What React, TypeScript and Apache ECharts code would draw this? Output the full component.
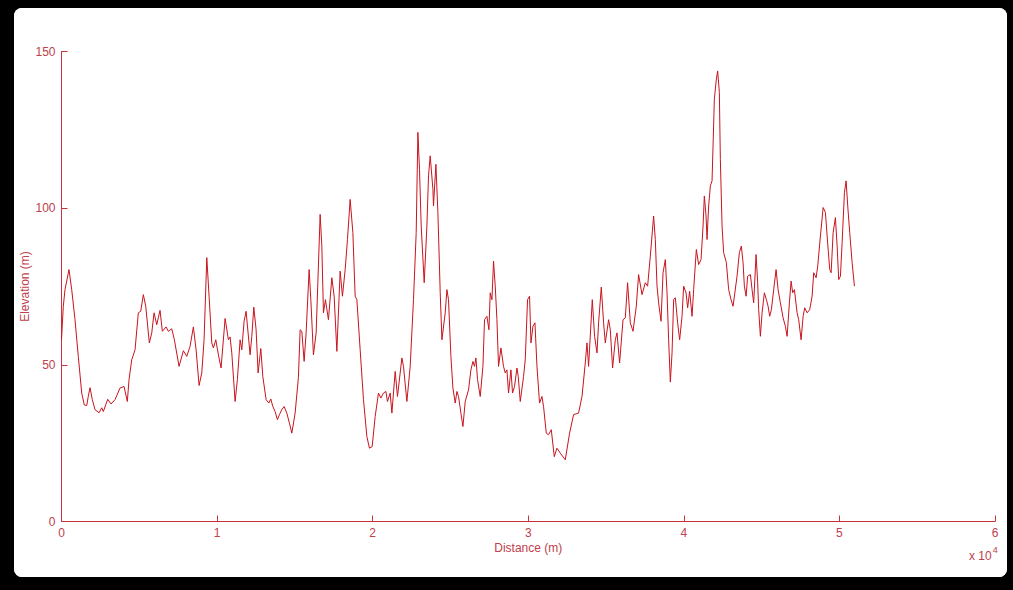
import React, { useEffect, useRef } from "react";
import * as echarts from "echarts";

// Distance along the profile (m)
const distance: number[] = [
  0, 116, 225, 482, 656, 868, 1080, 1299, 1466, 1621, 1723, 1833, 1981, 2154, 2412, 2585, 2688, 2971, 3183, 3441,
  3762, 4019, 4232, 4341, 4514, 4727, 4939, 5093, 5260, 5415, 5646, 5801, 5949, 6122, 6334, 6482, 6720, 6868, 7087, 7254,
  7556, 7833, 8052, 8264, 8476, 8650, 8843, 9016, 9164, 9338, 9486, 9659, 9762, 9917, 10084, 10257, 10515, 10727, 10836, 10945,
  11158, 11306, 11479, 11589, 11736, 11865, 12122, 12232, 12360, 12508, 12637, 12810, 12939, 13151, 13325, 13453, 13582, 13730, 13878, 14007,
  14161, 14309, 14482, 14650, 14804, 15016, 15228, 15338, 15447, 15595, 15723, 15916, 16026, 16193, 16367, 16476, 16624, 16733, 16836, 16965,
  17158, 17376, 17524, 17698, 17910, 18058, 18232, 18380, 18553, 18727, 18875, 18984, 19196, 19409, 19627, 19794, 19968, 20161, 20373, 20528,
  20695, 20849, 20952, 21126, 21235, 21447, 21595, 21878, 21981, 22199, 22412, 22624, 22798, 22907, 23010, 23119, 23312, 23486, 23589, 23698,
  23872, 23910, 24065, 24193, 24341, 24451, 24663, 24772, 24875, 25029, 25158, 25306, 25415, 25518, 25672, 25801, 25949, 26161, 26315, 26444,
  26547, 26637, 26740, 26913, 27087, 27190, 27344, 27473, 27556, 27666, 27769, 27878, 27987, 28090, 28244, 28411, 28521, 28630, 28733, 28887,
  28990, 29119, 29273, 29357, 29486, 29698, 29807, 29955, 30084, 30174, 30302, 30431, 30560, 30727, 30881, 30984, 31158, 31306, 31480, 31673,
  31846, 32058, 32380, 32656, 32914, 33235, 33454, 33666, 33775, 33878, 34116, 34264, 34418, 34521, 34695, 34843, 34952, 35165, 35274, 35422,
  35595, 35705, 35872, 36091, 36238, 36386, 36560, 36733, 36945, 37093, 37312, 37524, 37672, 37846, 38058, 38167, 38277, 38380, 38534, 38663,
  38811, 38920, 39023, 39132, 39242, 39345, 39454, 39602, 39731, 39885, 39988, 40142, 40245, 40373, 40528, 40631, 40804, 40952, 41106, 41235,
  41318, 41428, 41492, 41595, 41704, 41813, 41878, 41961, 42090, 42174, 42283, 42347, 42457, 42559, 42733, 42881, 43035, 43164, 43421, 43569,
  43698, 43807, 43891, 44000, 44103, 44277, 44386, 44489, 44643, 44746, 44811, 44920, 45029, 45177, 45306, 45415, 45518, 45627, 45775, 45929,
  46058, 46206, 46380, 46527, 46637, 46785, 46894, 46997, 47106, 47280, 47383, 47537, 47666, 47769, 47924, 48091, 48245, 48348, 48503, 48606,
  48779, 48953, 49101, 49210, 49377, 49467, 49596, 49743, 49853, 49956, 50065, 50174, 50322, 50431, 50534, 50663, 50817, 50965,
];

// Elevation (m)
const elevation: number[] = [
  58, 68.7, 74, 80.4, 74, 64.4, 52.7, 41, 37.2, 37, 40, 42.7, 38.9, 35.7, 34.7, 36.3, 35.1, 39, 37.5, 38.9,
  42.6, 43.1, 38.3, 45.3, 51.6, 54.8, 66.6, 67.1, 72.4, 68.7, 57, 60.2, 66.6, 62.8, 67.4, 60.7, 62.1, 60.7, 61.5, 58,
  49.5, 54.5, 52.7, 55.9, 62.1, 54.8, 43.4, 47.4, 58, 84.2, 71.9, 57, 55.4, 58, 53.2, 49, 64.8, 58, 58.9, 53.8,
  38.3, 45.3, 58, 54.8, 63.9, 67.1, 53.2, 59.1, 68.4, 61.2, 47.4, 55.2, 46.3, 38.9, 37.8, 39.1, 36.7, 35.1, 32.5, 34.1,
  35.7, 36.7, 34.6, 31.4, 28.2, 34.6, 46, 61.2, 60.7, 51.1, 60.2, 80.4, 70.8, 53.2, 60.2, 76.2, 98, 87.9, 66.6, 70.8,
  64.4, 77.8, 71.9, 54.3, 79.9, 71.9, 80.4, 90, 102.8, 92.2, 71.9, 70.8, 54.8, 38.9, 27.1, 23.4, 23.9, 33.5, 41, 39.4,
  41, 41.5, 38.3, 41, 34.6, 47.9, 39.9, 52.2, 49.5, 38.3, 49.5, 70.8, 92.2, 124.2, 112.4, 94.3, 76.2, 94.3, 110.3, 116.7,
  106, 100.7, 114, 98.6, 73, 58, 66.6, 74, 70.8, 52.7, 42.6, 37.8, 41.5, 39.9, 34.6, 30.3, 38.3, 42, 48.4, 51.1,
  49.5, 52.2, 45.3, 39.9, 49.5, 64.4, 65.5, 61.2, 73, 70.8, 83.1, 75.1, 64.4, 49.5, 55.4, 49.5, 47.4, 48.4, 41, 48.4,
  41, 43.1, 49, 46.3, 38.3, 46.3, 51.6, 70.8, 71.9, 57, 62.3, 63.4, 49.5, 37.8, 39.9, 36.7, 28.2, 27.7, 29.3, 20.7,
  23.4, 21.8, 19.7, 28.2, 34.1, 34.6, 39.9, 50.6, 57, 49.5, 70.8, 59.1, 53.8, 63.4, 74.8, 63.4, 57, 64.4, 61.2, 49,
  58, 60.2, 50.6, 64.4, 65, 76.2, 63.4, 60.7, 68.7, 78.8, 72.4, 76.2, 75.1, 84.7, 97.5, 90, 75.1, 69.8, 63.9, 79.4,
  83.6, 73, 58, 44.5, 53.8, 70.8, 71.4, 63.4, 58, 65.5, 75.1, 73, 68.2, 73.5, 65.5, 74, 86.8, 82, 83.6, 94.3,
  103.9, 97.5, 90, 100.7, 107.1, 108.7, 119.9, 134.8, 141.2, 143.8, 136.9, 115.6, 94.3, 85.8, 82.6, 74, 70.8, 68.7, 78.3, 85.8,
  87.9, 82.6, 75.1, 71.9, 78.3, 78.8, 74, 69.8, 85.2, 76.2, 67.6, 59.1, 66.6, 73, 70.8, 68.7, 65.5, 67.6, 74, 80.4,
  74, 69.8, 65, 62.3, 59.1, 69.8, 76.7, 73, 74, 66.6, 64.4, 58, 65.5, 68.2, 66.6, 67.6, 71.9, 79.4, 77.8, 81.5,
  91.1, 100.2, 98.6, 91.1, 80.4, 79.4, 92.2, 97, 87.9, 77.2, 78.3, 89, 105, 108.7, 100.7, 92.2, 82.6, 75.1,
];

const yTicks: number[] = [0, 50, 100, 150];
const xTickLabels: string[] = ["0", "1", "2", "3", "4", "5", "6"];

const AXIS = "#c8323c";
const TEXT = "#c0404c";
const LINE = "#c8141e";
const FONT = "'Liberation Sans Narrow', 'Liberation Sans', Arial, sans-serif";

export default function App() {
  const ref = useRef<HTMLDivElement>(null);

  useEffect(() => {
    document.body.style.margin = "0";
    if (!ref.current) return;
    const chart = echarts.init(ref.current, null, { renderer: "svg" });
    const data = distance.map((d, i) => [d, elevation[i]]);
    chart.setOption({
      animation: false,
      backgroundColor: "#ffffff",
      grid: {
        left: 47.5,
        top: 43.5,
        right: 12,
        bottom: 55.5,
        containLabel: false,
        outerBoundsMode: "none",
      },
      xAxis: {
        type: "value",
        min: 0,
        max: 60000,
        interval: 10000,
        name: "Distance (m)",
        nameLocation: "middle",
        nameGap: 20,
        nameMoveOverlap: false,
        nameTextStyle: { color: TEXT, fontFamily: FONT, fontSize: 12 },
        axisLine: { show: true, onZero: false, lineStyle: { color: AXIS, width: 1 } },
        axisTick: { show: true, inside: true, length: 6, lineStyle: { color: AXIS } },
        axisLabel: {
          color: TEXT,
          fontFamily: FONT,
          fontSize: 12,
          margin: 5,
          formatter: (v: number) => xTickLabels[Math.round(v / 10000)] ?? "",
        },
        splitLine: { show: false },
      },
      yAxis: {
        type: "value",
        min: yTicks[0],
        max: yTicks[yTicks.length - 1],
        interval: 50,
        name: "Elevation (m)",
        nameLocation: "middle",
        nameGap: 31,
        nameRotate: 90,
        nameMoveOverlap: false,
        nameTextStyle: { color: TEXT, fontFamily: FONT, fontSize: 12 },
        axisLine: { show: true, lineStyle: { color: AXIS, width: 1 } },
        axisTick: { show: true, inside: true, length: 6, lineStyle: { color: AXIS } },
        axisLabel: { color: TEXT, fontFamily: FONT, fontSize: 12, margin: 6 },
        splitLine: { show: false },
      },
      graphic: [
        {
          type: "text",
          left: 955,
          top: 537,
          style: {
            text: "{a|x 10}{b|4}",
            rich: {
              a: { fontFamily: FONT, fontSize: 12, fill: TEXT, lineHeight: 16, verticalAlign: "bottom" },
              b: { fontFamily: FONT, fontSize: 9, fill: TEXT, lineHeight: 16, padding: [0, 0, 8, 1], verticalAlign: "bottom" },
            },
          },
        },
      ],
      series: [
        {
          type: "line",
          data,
          showSymbol: false,
          symbol: "none",
          smooth: false,
          lineStyle: { color: LINE, width: 1 },
          emphasis: { disabled: true },
        },
      ],
    });
    return () => chart.dispose();
  }, []);

  return (
    <div style={{ position: "absolute", left: 0, top: 0, width: 1013, height: 590, background: "#000" }}>
      <div
        style={{
          position: "absolute",
          left: 14,
          top: 8,
          width: 993,
          height: 569,
          background: "#fff",
          borderRadius: 8,
          overflow: "hidden",
        }}
      >
        <div ref={ref} style={{ width: 993, height: 569 }} />
      </div>
    </div>
  );
}
